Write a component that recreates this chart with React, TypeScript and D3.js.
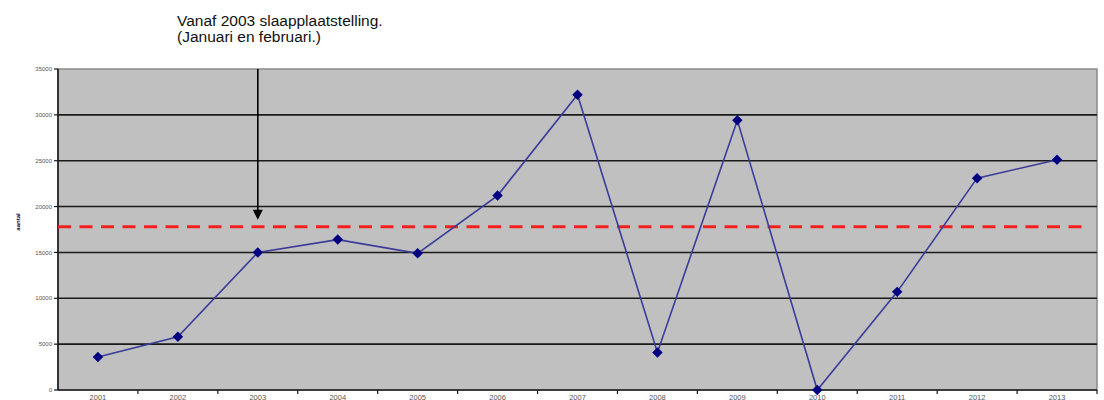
import React from "react";
import * as d3 from "d3";

const years = ["2001", "2002", "2003", "2004", "2005", "2006", "2007", "2008", "2009", "2010", "2011", "2012", "2013"];
const values = [3600, 5800, 15000, 16400, 14900, 21200, 32200, 4100, 29400, 0, 10700, 23100, 25100];
const yTicks = [0, 5000, 10000, 15000, 20000, 25000, 30000, 35000];
const referenceValue = 17800;
const annotationYear = "2003";
const annotationLines = ["Vanaf 2003 slaapplaatstelling.", "(Januari en februari.)"];
const yTitle = "aantal";

const W = 1104;
const H = 400;
const M = { left: 58, right: 1097, top: 69, bottom: 390 };

export default function App() {
  const x = d3.scaleBand<string>().domain(years).range([M.left, M.right]).padding(0);
  const y = d3.scaleLinear().domain([0, 35000]).range([M.bottom, M.top]);
  const cx = (c: string) => (x(c) as number) + x.bandwidth() / 2;

  const line = d3
    .line<number>()
    .x((_, i) => cx(years[i]))
    .y((d) => y(d));

  const diamond = d3.symbol().type(d3.symbolDiamond2).size(70)();

  const ax = cx(annotationYear);
  const refY = y(referenceValue);

  return (
    <svg
      width={W}
      height={H}
      style={{ position: "absolute", left: 0, top: 0, background: "#fff" }}
      fontFamily="Liberation Sans, Arial, sans-serif"
    >
      {/* plot area */}
      <rect x={M.left} y={M.top} width={M.right - M.left} height={M.bottom - M.top} fill="#c0c0c0" stroke="#8a8a8a" strokeWidth={1.5} />
      {/* gridlines */}
      {yTicks.slice(1, -1).map((t) => (
        <line key={t} x1={M.left} x2={M.right} y1={y(t)} y2={y(t)} stroke="#1a1a1a" strokeWidth={1.6} />
      ))}
      {/* y axis */}
      <line x1={M.left} x2={M.left} y1={M.top} y2={M.bottom} stroke="#1a1a1a" strokeWidth={1.6} />
      {yTicks.map((t) => (
        <g key={t}>
          <line x1={M.left - 4} x2={M.left} y1={y(t)} y2={y(t)} stroke="#1a1a1a" strokeWidth={1.2} />
          <text x={M.left - 6} y={y(t)} dy="0.35em" textAnchor="end" fontSize={6} fill="#555">
            {t}
          </text>
        </g>
      ))}
      {/* x axis */}
      <line x1={M.left} x2={M.right} y1={M.bottom} y2={M.bottom} stroke="#1a1a1a" strokeWidth={1.6} />
      {years.map((c, i) => (
        <g key={c}>
          {i > 0 && <line x1={x(c)} x2={x(c)} y1={M.bottom} y2={M.bottom + 4} stroke="#1a1a1a" strokeWidth={1.2} />}
          <text x={cx(c)} y={399.5} textAnchor="middle" fontSize={7.5} fill="#555">
            {c}
          </text>
        </g>
      ))}
      <line x1={M.right} x2={M.right} y1={M.bottom} y2={M.bottom + 4} stroke="#1a1a1a" strokeWidth={1.2} />
      {/* y title */}
      <text transform={`translate(20,222) rotate(-90)`} textAnchor="middle" fontSize={6} fontWeight="bold" fill="#000050">
        {yTitle}
      </text>
      {/* reference dashed line */}
      <line x1={M.left} x2={1086} y1={refY} y2={refY} stroke="#f42020" strokeWidth={3} strokeDasharray="13 8.5" />
      {/* series */}
      <path d={line(values) || ""} fill="none" stroke="#3b3b9a" strokeWidth={1.6} />
      {values.map((v, i) => (
        <path key={i} d={diamond || ""} transform={`translate(${cx(years[i])},${y(v)})`} fill="#000080" />
      ))}
      {/* annotation arrow */}
      <line x1={ax} x2={ax} y1={M.top} y2={refY - 14} stroke="#000" strokeWidth={1.6} />
      <path d={`M${ax - 5},${refY - 17} L${ax + 5},${refY - 17} L${ax},${refY - 7} Z`} fill="#000" />
      {annotationLines.map((s, i) => (
        <text key={i} x={177} y={26 + i * 16} fontSize={15.5} fill="#111">
          {s}
        </text>
      ))}
    </svg>
  );
}
